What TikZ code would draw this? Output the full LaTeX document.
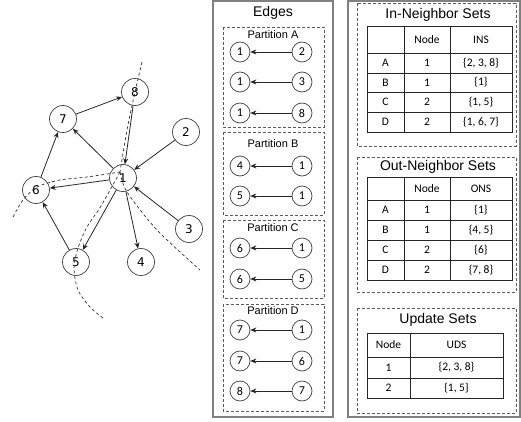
\documentclass[tikz,border=0pt]{standalone}
\usepackage{fontspec}
\setmainfont{Liberation Sans}
\newfontfamily\carl{Carlito}
\newfontfamily\djv{DejaVu Sans}
\usetikzlibrary{arrows.meta}
\begin{document}
\begin{tikzpicture}[x=1pt,y=-1pt,
  gnode/.style={circle,draw=black!75,line width=0.7pt,minimum size=27pt,inner sep=0pt,font=\djv\fontsize{12}{12}\selectfont},
  enode/.style={circle,draw=black!75,line width=0.7pt,minimum size=20pt,inner sep=0pt,font=\carl\fontsize{12}{12}\selectfont},
  arr/.style={-{Stealth[length=6pt,width=5pt]},line width=0.8pt,black!85},
  partbox/.style={draw=black!65,line width=0.7pt,dash pattern=on 3pt off 2pt},
  bound/.style={black!80,line width=0.7pt,dash pattern=on 3pt off 2.5pt},
  panel/.style={draw=black!50,line width=1.6pt},
  ttl/.style={font=\fontsize{14}{14}\selectfont,inner sep=0pt},
  ptl/.style={font=\fontsize{11}{11}\selectfont,inner sep=0pt},
  cell/.style={font=\carl\fontsize{11.5}{11.5}\selectfont,inner sep=0pt},
  grid/.style={draw=black!85,line width=0.8pt}]
\useasboundingbox (0,0) rectangle (521,422);

% ---------- graph ----------
\node[gnode] (g8) at (135,92) {8};
\node[gnode] (g7) at (63,119) {7};
\node[gnode] (g2) at (186,132) {2};
\node[gnode] (g1) at (123,178) {1};
\node[gnode] (g6) at (36,190) {6};
\node[gnode] (g3) at (189,229) {3};
\node[gnode] (g5) at (76,262) {5};
\node[gnode] (g4) at (141,262) {4};

\draw[arr] (g7) -- (g8);
\draw[arr] (g1) -- (g7);
\draw[arr] (g8) -- (g1);
\draw[arr] (g2) -- (g1);
\draw[arr] (g1) -- (g6);
\draw[arr] (g3) -- (g1);
\draw[arr] (g1) -- (g5);
\draw[arr] (g1) -- (g4);
\draw[arr] (g6) -- (g7);
\draw[arr] (g5) -- (g6);

\draw[bound] plot[smooth] coordinates {(142,62) (135,92) (127,130) (120,172)};
\draw[bound] plot[smooth] coordinates {(120,172) (101,206) (87,227) (78,248) (74,268) (78,290) (90,307) (103,318)};
\draw[bound] plot[smooth] coordinates {(13,217) (23,200) (37,187) (60,180) (87,177) (120,172)};
\draw[bound] plot[smooth] coordinates {(120,172) (127,192) (157,230) (200,270)};

% ---------- edges panel ----------
\draw[panel] (213,0.8) rectangle (333,417.2);
\node[ttl] (tedges) at (273,13) {Edges};

\draw[partbox] (223,27) rectangle (324,127);
\draw[partbox] (223,132) rectangle (324,215);
\draw[partbox] (223,220) rectangle (324,298);
\draw[partbox] (223,304) rectangle (324,411);
\node[ptl] (pa) at (273,35) {Partition A};
\node[ptl] (pb) at (273,144) {Partition B};
\node[ptl] (pc) at (273,228) {Partition C};
\node[ptl] (pd) at (273,311) {Partition D};

\foreach \y/\l/\r [count=\i] in {52/1/2, 82/1/3, 113/1/8, 166/4/1, 196/5/1, 248/6/1, 279/6/5, 330/7/1, 361/7/6, 391/8/7}{
  \node[enode] (el\i) at (240,\y) {\l};
  \node[enode] (er\i) at (302,\y) {\r};
  \draw[arr] (er\i) -- (el\i);
}

% ---------- sets panel ----------
\draw[panel] (348,0.8) rectangle (520.2,417.2);

% In-Neighbor Sets
\draw[partbox] (357,3) rectangle (516,146);
\node[ttl] (tin) at (438,15) {In-Neighbor Sets};
\draw[grid] (367,26) rectangle (512,132);
\foreach \y in {53,73,92,112} \draw[grid] (367,\y) -- (512,\y);
\foreach \x in {404,450} \draw[grid] (\x,26) -- (\x,132);
\node[cell] (in0b) at (427,39.5) {Node};
\node[cell] (in0c) at (481,39.5) {INS};
\foreach \y/\a/\b/\c [count=\i] in {63/A/1/{\{2, 3, 8\}}, 82.5/B/1/{\{1\}}, 102/C/2/{\{1, 5\}}, 122/D/2/{\{1, 6, 7\}}}{
  \node[cell] (in\i a) at (385.5,\y) {\a};
  \node[cell] (in\i b) at (427,\y) {\b};
  \node[cell] (in\i c) at (481,\y) {\c};
}

% Out-Neighbor Sets
\draw[partbox] (357,157) rectangle (516,292);
\node[ttl] (tout) at (438,167) {Out-Neighbor Sets};
\draw[grid] (367,177) rectangle (512,280);
\foreach \y in {200,220,240,260} \draw[grid] (367,\y) -- (512,\y);
\foreach \x in {404,450} \draw[grid] (\x,177) -- (\x,280);
\node[cell] (out0b) at (427,188.5) {Node};
\node[cell] (out0c) at (481,188.5) {ONS};
\foreach \y/\a/\b/\c [count=\i] in {210/A/1/{\{1\}}, 230/B/1/{\{4, 5\}}, 250/C/2/{\{6\}}, 270/D/2/{\{7, 8\}}}{
  \node[cell] (out\i a) at (385.5,\y) {\a};
  \node[cell] (out\i b) at (427,\y) {\b};
  \node[cell] (out\i c) at (481,\y) {\c};
}

% Update Sets
\draw[partbox] (357,308) rectangle (516,413);
\node[ttl] (tup) at (438,320) {Update Sets};
\draw[grid] (367,333) rectangle (503,398);
\foreach \y in {357,378} \draw[grid] (367,\y) -- (503,\y);
\draw[grid] (410,333) -- (410,398);
\node[cell] (up0a) at (388.5,345) {Node};
\node[cell] (up0b) at (456.5,345) {UDS};
\node[cell] (up1a) at (388.5,367.5) {1};
\node[cell] (up1b) at (456.5,367.5) {\{2, 3, 8\}};
\node[cell] (up2a) at (388.5,388) {2};
\node[cell] (up2b) at (456.5,388) {\{1, 5\}};
\end{tikzpicture}
\end{document}
